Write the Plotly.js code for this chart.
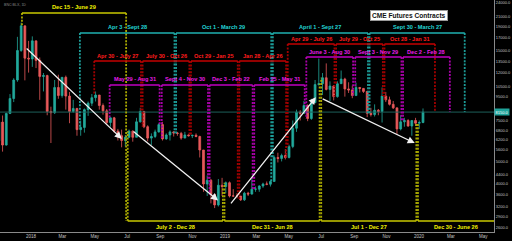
<!DOCTYPE html>
<html><head><meta charset="utf-8">
<script src="https://cdn.plot.ly/plotly-3.0.1.min.js"></script>
<style>html,body{margin:0;padding:0;background:#000;overflow:hidden}#chart{width:512px;height:241px;}</style>
</head><body><div id="chart"></div>
<script>
// ---- weekly BTC/USD candles ----
const weekStart = ["2017-10-30","2017-11-06","2017-11-13","2017-11-20","2017-11-27","2017-12-04","2017-12-11","2017-12-18","2017-12-25",
"2018-01-01","2018-01-08","2018-01-15","2018-01-22","2018-01-29","2018-02-05","2018-02-12","2018-02-19","2018-02-26","2018-03-05","2018-03-12","2018-03-19","2018-03-26",
"2018-04-02","2018-04-09","2018-04-16","2018-04-23","2018-04-30","2018-05-07","2018-05-14","2018-05-21","2018-05-28","2018-06-04","2018-06-11","2018-06-18","2018-06-25",
"2018-07-02","2018-07-09","2018-07-16","2018-07-23","2018-07-30","2018-08-06","2018-08-13","2018-08-20","2018-08-27","2018-09-03","2018-09-10","2018-09-17","2018-09-24",
"2018-10-01","2018-10-08","2018-10-15","2018-10-22","2018-10-29","2018-11-05","2018-11-12","2018-11-19","2018-11-26","2018-12-03","2018-12-10","2018-12-17","2018-12-24","2018-12-31",
"2019-01-07","2019-01-14","2019-01-21","2019-01-28","2019-02-04","2019-02-11","2019-02-18","2019-02-25","2019-03-04","2019-03-11","2019-03-18","2019-03-25",
"2019-04-01","2019-04-08","2019-04-15","2019-04-22","2019-04-29","2019-05-06","2019-05-13","2019-05-20","2019-05-27","2019-06-03","2019-06-10","2019-06-17","2019-06-24",
"2019-07-01","2019-07-08","2019-07-15","2019-07-22","2019-07-29","2019-08-05","2019-08-12","2019-08-19","2019-08-26","2019-09-02","2019-09-09","2019-09-16","2019-09-23",
"2019-09-30","2019-10-07","2019-10-14","2019-10-21","2019-10-28","2019-11-04","2019-11-11","2019-11-18","2019-11-25","2019-12-02","2019-12-09","2019-12-16","2019-12-23","2019-12-30","2020-01-06"];
const weekOpen = [6130,7380,5880,8040,9320,11200,15000,19140,13900,
13800,16500,13600,11600,11700,8200,8100,10400,9600,11500,9550,8200,8450,
6850,7000,8350,8900,9400,9650,8700,8250,7350,7700,6750,6450,6150,
6350,6750,6350,7400,8200,7050,6300,6400,6700,7200,6250,6500,6700,
6620,6600,6300,6500,6450,6480,6400,5600,4000,4150,3600,3250,3950,3900,
4050,3550,3550,3550,3420,3650,3620,3800,3800,3920,4000,3990,
4100,5200,5150,5300,5200,5800,6950,8150,8050,8700,7650,8950,10700,
10800,11450,10200,10550,9500,10800,11300,10250,10150,9600,10400,10300,10000,
8050,7950,8300,8200,9550,9200,8800,8500,6900,7400,7500,7100,7500,7300,7350];
const weekHigh = [7600,7880,8100,9740,11400,17170,19780,19200,16500,
17250,16500,14000,12000,11800,8600,11200,11800,11500,11700,9950,9200,8500,
7500,8450,9050,9750,9990,9650,8880,8400,7750,7770,6900,6850,6500,
6850,6800,7700,8500,8250,7150,6600,6850,7300,7400,6600,6800,6750,
6700,6700,6700,6550,6500,6600,6450,5600,4350,4200,3600,4200,4250,4100,
4100,3800,3650,3550,3700,3700,4200,3900,3950,4050,4100,4150,
5300,5450,5400,5650,5900,7500,8350,8300,9100,8800,9300,11200,13850,
12000,13200,11050,10650,11050,12300,11450,10950,10600,10900,10450,10350,10050,
8500,8800,8400,10400,9950,9500,9100,8500,7900,7700,7600,7500,7700,7500,8450];
const weekLow = [6030,5510,5850,7990,9000,11000,14800,11160,12050,
12750,12600,9200,10000,7900,6000,8000,9300,9400,8350,7300,8100,6450,
6450,6650,7850,8650,9050,8350,7950,7200,7050,6650,6150,5750,5800,
6300,6080,6350,7350,6950,6100,5880,6300,6650,6150,6200,6150,6400,
6450,6200,6300,6400,6300,6350,5200,3700,3550,3300,3150,3200,3550,3650,
3500,3530,3470,3380,3380,3550,3600,3700,3700,3850,3950,3900,
4100,4950,5000,5100,5150,5700,6700,7500,8050,7450,7550,8900,10600,
9650,10100,9100,9150,9400,10800,9500,9850,9350,9600,9900,9850,7750,
7800,7800,7900,7350,9000,8700,8400,6550,6800,7050,7050,6450,7100,6900,7300];
const weekClose = [7380,5880,8040,9320,11200,15000,19140,13900,13800,
16500,13600,11600,11700,8200,8100,10400,9600,11500,9550,8200,8450,6850,
7000,8350,8900,9400,9650,8700,8250,7350,7700,6750,6450,6150,6350,
6750,6350,7400,8200,7050,6300,6400,6700,7200,6250,6500,6700,6620,
6600,6300,6500,6450,6480,6400,5600,4000,4150,3600,3250,3950,3900,4050,
3550,3550,3550,3420,3650,3620,3800,3800,3920,4000,3990,4100,
5200,5150,5300,5200,5800,6950,8150,8050,8700,7650,8950,10700,10800,
11450,10200,10550,9500,10800,11300,10250,10150,9600,10400,10300,10000,8050,
7950,8300,8200,9550,9200,8800,8500,6900,7400,7500,7100,7500,7300,7350,8150];

// ---- axis ticks ----
const xTickDates = ["2017-11-01","2018-01-01","2018-03-01","2018-05-01","2018-07-01","2018-09-01","2018-11-01","2019-01-01","2019-03-01","2019-05-01","2019-07-01","2019-09-01","2019-11-01","2020-01-01","2020-03-01","2020-05-01"];
const xTickText = ["Nov","2018","Mar","May","Jul","Sep","Nov","2019","Mar","May","Jul","Sep","Nov","2020","Mar","May"];
const yTickVals = [24000,21000,19000,17000,15000,13500,12000,10500,9500,7500,6800,6200,5600,5000,4400,4000,3600,3200,2900,2600];

// ---- contract periods ----
const yellowTopLabels = ["Dec 15 - June 29"];
const yellowTopStarts = ["2017-12-15"];
const yellowTopEnds = ["2018-06-29"];
const yellowBottomLabels = ["July 2 - Dec 28","Dec 31 - Jun 28","Jul 1 - Dec 27","Dec 30 - June 26"];
const yellowBottomStarts = ["2018-07-02","2018-12-31","2019-07-01","2019-12-30"];
const yellowBottomEnds = ["2018-12-28","2019-06-28","2019-12-27","2020-06-26"];
const tealLabels = ["Apr 3 - Sept 28","Oct 1 - March 29","April 1 - Sept 27","Sept 30 - March 27"];
const tealStarts = ["2018-04-03","2018-10-01","2019-04-01","2019-09-30"];
const tealEnds = ["2018-09-28","2019-03-29","2019-09-27","2020-03-27"];
const redLabels = ["Apr 30 - July 27","July 30 - Oct 26","Oct 29 - Jan 25","Jan 28 - Apr 26","Apr 29 - July 26","July 29 - Oct 25","Oct 28 - Jan 31"];
const redStarts = ["2018-04-30","2018-07-30","2018-10-29","2019-01-28","2019-04-29","2019-07-29","2019-10-28"];
const redEnds = ["2018-07-27","2018-10-26","2019-01-25","2019-04-26","2019-07-26","2019-10-25","2020-01-31"];
const redTiers = [0,0,0,0,1,1,1];
const magentaLabels = ["May 29 - Aug 31","Sept 4 - Nov 30","Dec 3 - Feb 22","Feb 25 - May 31","June 3 - Aug 30","Sept 3 - Nov 29","Dec 2 - Feb 28"];
const magentaStarts = ["2018-05-29","2018-09-04","2018-12-03","2019-02-25","2019-06-03","2019-09-03","2019-12-02"];
const magentaEnds = ["2018-08-31","2018-11-30","2019-02-22","2019-05-31","2019-08-30","2019-11-29","2020-02-28"];
const magentaTiers = [0,0,0,0,1,1,1];

// ---- trend arrows ----
const arrowFromDates = ["2017-12-21","2018-07-10","2019-01-10","2019-07-01"];
const arrowFromPrices = [15500,6800,3250,9350];
const arrowToDates = ["2018-06-21","2018-12-19","2019-06-21","2019-12-24"];
const arrowToPrices = [6250,3400,9450,6000];

// ================= drawing =================
const X_RANGE = ["2017-11-03 17:00","2020-05-21 02:00"];
const Y_RANGE = [3.3955, 4.3932];
const xEndMs = Date.parse("2020-05-21T02:00:00Z");
const lastClose = weekClose[weekClose.length-1];
const L10 = Math.log10;
const paperToPrice = f => Math.pow(10, Y_RANGE[0] + f*(Y_RANGE[1]-Y_RANGE[0]));
const ms = d => Date.parse(d + "T00:00:00Z");
const FONT = 'Liberation Sans, Arial, sans-serif';

function priceAt(d){
  const t = ms(d);
  for (let i = weekStart.length-1; i >= 0; i--) {
    if (ms(weekStart[i]) <= t) return weekClose[i];
  }
  return weekClose[0];
}

const STY = {
  yellow:  {line:'#c8c800', dash:'#a8a800', text:'#f4f400'},
  teal:    {line:'#1fb0b0', dash:'#1c9c98', text:'#22d4d4'},
  red:     {line:'#c40000', dash:'#a00000', text:'#ff1c1c'},
  magenta: {line:'#c000c0', dash:'#a800a8', text:'#e81ce8'}
};
const LEVEL = {
  yellowTop: [0.944], yellowBottom: [0.047], teal: [0.858], red: [0.737, 0.810], magenta: [0.634, 0.754]
};

const annotations = [];
const lineTraces = [];

function addGroup(labels, starts, ends, tiers, styleKey, levels, kind){
  const s = STY[styleKey];
  const hx = [], hy = [], vx = [], vy = [];
  labels.forEach((lab, i) => {
    const lv = paperToPrice(levels[tiers ? tiers[i] : 0]);
    hx.push(starts[i], ends[i], null); hy.push(lv, lv, null);
    const a = ms(starts[i]), b = Math.min(ms(ends[i]), xEndMs);
    const mid = new Date((a+b)/2).toISOString().slice(0,19).replace('T',' ');
    annotations.push({x:mid, y:L10(lv), xref:'x', yref:'y', text:'<b>'+lab+'</b>', showarrow:false,
      yshift: kind === 'bottom' ? -6 : 5.5, font:{family:FONT, size:5.6, color:s.text}});
    [starts[i], ends[i]].forEach((d, k) => {
      if (ms(d) > xEndMs) return;
      const p = priceAt(d);
      let y0 = lv, y1 = p;
      if (kind === 'top' && k === 1) y1 = paperToPrice(LEVEL.yellowBottom[0]);
      vx.push(d, d, null); vy.push(y0, y1, null);
    });
  });
  lineTraces.push({type:'scatter', mode:'lines', x:vx, y:vy, hoverinfo:'skip',
    line:{color:s.dash, width:1.8, dash:'2px,1.4px'}});
  lineTraces.push({type:'scatter', mode:'lines', x:hx, y:hy, hoverinfo:'skip',
    line:{color:s.line, width:1.5}});
}

addGroup(yellowTopLabels, yellowTopStarts, yellowTopEnds, null, 'yellow', LEVEL.yellowTop, 'top');
addGroup(yellowBottomLabels, yellowBottomStarts, yellowBottomEnds, null, 'yellow', LEVEL.yellowBottom, 'bottom');
addGroup(tealLabels, tealStarts, tealEnds, null, 'teal', LEVEL.teal, 'above');
addGroup(redLabels, redStarts, redEnds, redTiers, 'red', LEVEL.red, 'above');
addGroup(magentaLabels, magentaStarts, magentaEnds, magentaTiers, 'magenta', LEVEL.magenta, 'above');

// arrows
arrowFromDates.forEach((d, i) => {
  annotations.push({x:arrowToDates[i], y:L10(arrowToPrices[i]), xref:'x', yref:'y',
    ax:d, ay:L10(arrowFromPrices[i]), axref:'x', ayref:'y', text:'', showarrow:true,
    arrowhead:2, arrowsize:1.1, arrowwidth:1.3, arrowcolor:'#f0f0f0'});
});

// CME label
annotations.push({xref:'paper', yref:'paper', x:0.907, y:0.957, text:'<b>CME Futures Contracts</b>', showarrow:false,
  bgcolor:'#ffffff', bordercolor:'#9a9a9a', borderwidth:1, borderpad:1,
  font:{family:FONT, size:6.6, color:'#111'}});
// top-left symbol text
annotations.push({xref:'paper', yref:'paper', x:0.004, y:0.995, xanchor:'left', yanchor:'top', text:'BNC:BLX, 1D', showarrow:false,
  font:{family:FONT, size:3.6, color:'#8a8a8a'}});
// current price tag
annotations.push({xref:'paper', yref:'y', x:1, y:L10(lastClose), xanchor:'left', text:lastClose.toFixed(1), showarrow:false,
  bgcolor:'#1fa39a', borderpad:0.5, font:{family:FONT, size:4, color:'#ffffff'}});

const priceLine = {type:'scatter', mode:'lines', x:X_RANGE, y:[lastClose, lastClose], hoverinfo:'skip',
  line:{color:'#1d5f5a', width:1}};

const candles = {
  type:'candlestick', x:weekStart, open:weekOpen, high:weekHigh, low:weekLow, close:weekClose,
  xperiod: 7*864e5, xperiodalignment:'middle', whiskerwidth:0,
  increasing:{line:{color:'#22a99c', width:0.8}, fillcolor:'#22a99c'},
  decreasing:{line:{color:'#e8595a', width:0.8}, fillcolor:'#e8595a'},
  hoverinfo:'skip'
};

const layout = {
  width:512, height:241, margin:{l:0, r:18, t:0, b:9},
  paper_bgcolor:'#000000', plot_bgcolor:'#000000', showlegend:false,
  xaxis:{type:'date', range:X_RANGE, showgrid:false, zeroline:false, showline:true, linecolor:'#8a8a8a', linewidth:1,
    tickvals:xTickDates, ticktext:xTickText, ticks:'', tickfont:{family:FONT, size:4.5, color:'#c4c4c4'},
    rangeslider:{visible:false}, automargin:false, fixedrange:true},
  yaxis:{type:'log', range:Y_RANGE, side:'right', showgrid:false, zeroline:false, showline:true, linecolor:'#8a8a8a', linewidth:1,
    tickvals:yTickVals, ticktext:yTickVals.map(v => v.toFixed(1)), ticks:'',
    tickfont:{family:FONT, size:4, color:'#c4c4c4'}, automargin:false, fixedrange:true},
  annotations:annotations
};

Plotly.newPlot('chart', [priceLine, candles].concat(lineTraces), layout, {displayModeBar:false, staticPlot:true});
</script>
</body></html>
